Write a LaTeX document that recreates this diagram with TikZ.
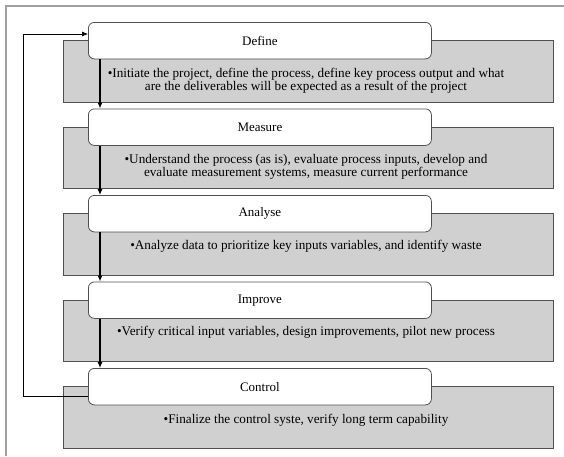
\documentclass[tikz,border=0pt]{standalone}
\usepackage{fontspec}
\setmainfont{Liberation Serif}
\usetikzlibrary{arrows.meta}
\definecolor{grayfill}{HTML}{D0D0D0}
\definecolor{edgegray}{HTML}{505050}
\definecolor{framegray}{HTML}{A0A0A0}
\begin{document}
\begin{tikzpicture}[x=1pt,y=-1pt,
  titlebox/.style={draw=edgegray,line width=0.8pt,fill=white,rounded corners=6pt,minimum width=343pt,minimum height=36.5pt,inner sep=0pt,font=\fontsize{13}{13.3}\selectfont},
  graybox/.style={draw=edgegray,line width=0.8pt,fill=grayfill,minimum width=490pt,minimum height=61.5pt,inner sep=0pt},
  bodytext/.style={anchor=base,align=center,inner sep=0pt,font=\fontsize{13.2}{13.3}\selectfont},
  flow/.style={line width=1.1pt,-{Latex[length=6pt,width=5pt]}},
  back/.style={line width=0.7pt,-{Latex[length=6pt,width=5pt]}}]
\useasboundingbox (0,0) rectangle (564,456);
\draw[framegray,line width=1.2pt] (6,456) -- (6,6) -- (564,6);
% gray panels
\node[graybox,anchor=north west] (g0) at (63,40) {};
\node[graybox,anchor=north west] (g1) at (63,126.5) {};
\node[graybox,anchor=north west] (g2) at (63,213) {};
\node[graybox,anchor=north west] (g3) at (63,299.5) {};
\node[graybox,anchor=north west] (g4) at (63,386) {};
% title boxes
\node[titlebox,anchor=north west] (b0) at (88,22) {Define};
\node[titlebox,anchor=north west] (b1) at (88,108.5) {Measure};
\node[titlebox,anchor=north west] (b2) at (88,195) {Analyse};
\node[titlebox,anchor=north west] (b3) at (88,281.5) {Improve};
\node[titlebox,anchor=north west] (b4) at (88,368) {Control};
% body texts
\node[bodytext] (t0) at (306,90.3) {\textbullet Initiate the project, define the process, define key process output and what\\are the deliverables will be expected as a result of the project};
\node[bodytext] (t1) at (306,176.8) {\textbullet Understand the process (as is), evaluate process inputs, develop and\\evaluate measurement systems, measure current performance};
\node[bodytext] (t2) at (306,249) {\textbullet Analyze data to prioritize key inputs variables, and identify waste};
\node[bodytext] (t3) at (306,335.5) {\textbullet Verify critical input variables, design improvements, pilot new process};
\node[bodytext] (t4) at (306,423.5) {\textbullet Finalize the control syste, verify long term capability};
% flow arrows
\draw[flow] ([xshift=12pt]b0.south west) -- ([xshift=12pt]b1.north west);
\draw[flow] ([xshift=12pt]b1.south west) -- ([xshift=12pt]b2.north west);
\draw[flow] ([xshift=12pt]b2.south west) -- ([xshift=12pt]b3.north west);
\draw[flow] ([xshift=12pt]b3.south west) -- ([xshift=12pt]b4.north west);
% feedback
\coordinate (c1) at (23,396);
\coordinate (c2) at (23,34);
\draw[back] (b4.west |- c1) -- (c1) -- (c2) -- (b0.west |- c2);
\end{tikzpicture}
\end{document}
